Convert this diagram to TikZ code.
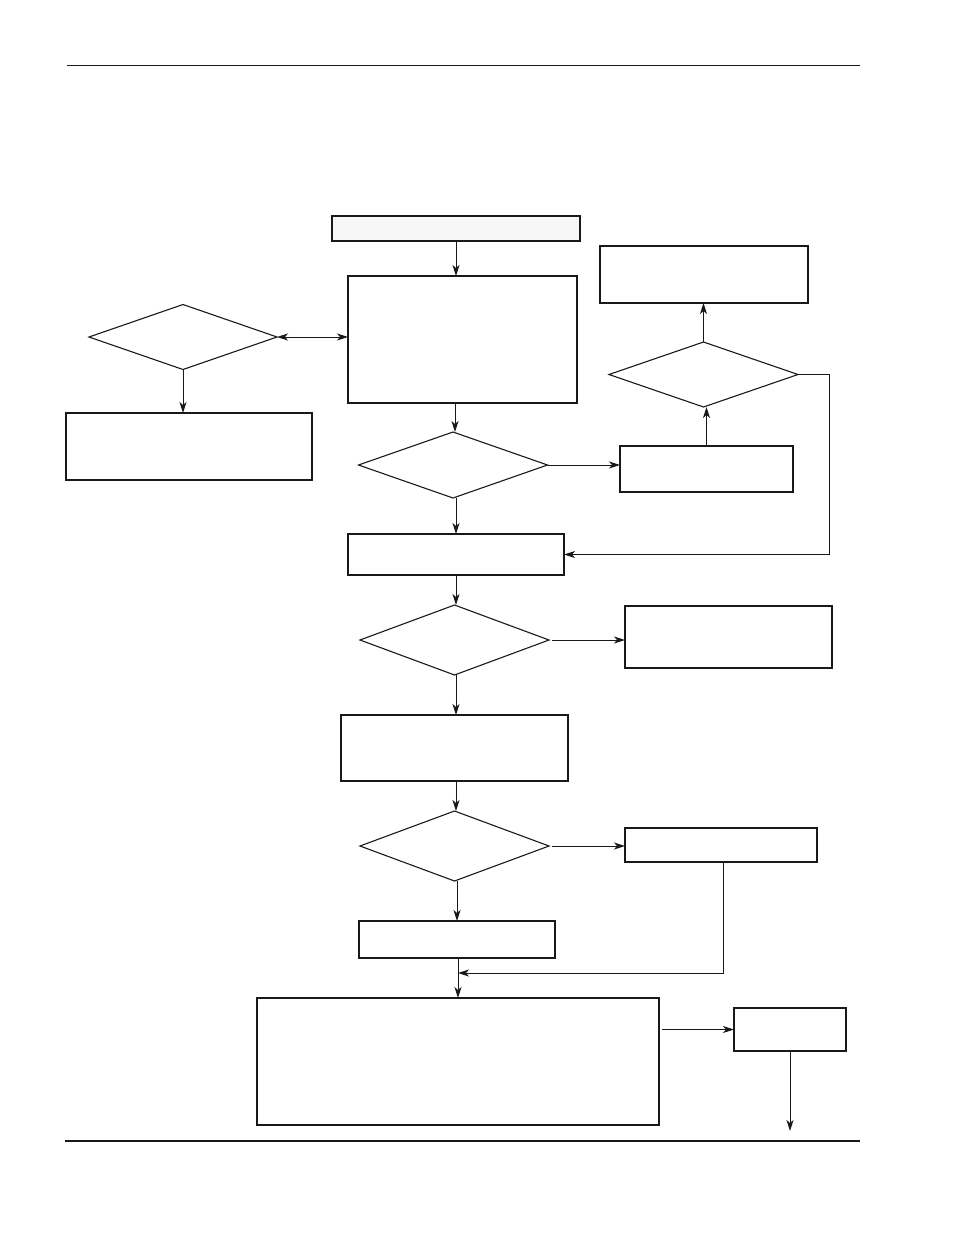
\documentclass[tikz,border=0pt]{standalone}
\usetikzlibrary{arrows.meta,shapes.geometric}
\begin{document}
\begin{tikzpicture}[x=1pt,y=-1pt,
  box/.style={draw=black!90,line width=1.3pt,rectangle,inner sep=0pt,outer sep=0pt},
  tbox/.style={box,line width=2pt},
  dia/.style={draw=black!90,line width=1.1pt,diamond,inner sep=0pt,outer sep=0pt},
  tip/.tip={Stealth[length=11pt,width=7pt,inset=3pt]},
  arr/.style={draw=black!90,line width=1pt,-tip},
  darr/.style={draw=black!90,line width=1pt,tip-tip},
  rule/.style={draw=black!90}]
\useasboundingbox (0,0) rectangle (954,1235);
\draw[rule,line width=1pt] (67,65) -- (860,65);
\draw[rule,line width=2pt] (65,1141) -- (860,1141);
% rectangles
\node[box,fill=black!3,line width=1.6pt,minimum width=248pt,minimum height=25pt] (start) at (456,228.5) {};
\node[tbox,minimum width=229pt,minimum height=127pt] (B) at (462.5,339.5) {};
\node[box,minimum width=246pt,minimum height=67pt] (L) at (189,446.5) {};
\node[box,minimum width=208pt,minimum height=57pt] (TR) at (704,274.5) {};
\node[tbox,minimum width=173pt,minimum height=46pt] (R1) at (706.5,469) {};
\node[tbox,minimum width=216pt,minimum height=41pt] (C) at (456,554.5) {};
\node[box,line width=1.6pt,minimum width=207pt,minimum height=62pt] (R2) at (728.5,637) {};
\node[box,line width=1.1pt,minimum width=227pt,minimum height=66pt] (E) at (454.5,748) {};
\node[box,line width=1.6pt,minimum width=192pt,minimum height=34pt] (R3) at (721,845) {};
\node[box,line width=1.6pt,minimum width=196pt,minimum height=37pt] (F) at (457,939.5) {};
\node[tbox,minimum width=402pt,minimum height=127pt] (G) at (458,1061.5) {};
\node[box,line width=1.6pt,minimum width=112pt,minimum height=43pt] (H) at (790,1029.5) {};
% diamonds
\node[dia,minimum width=188pt,minimum height=65pt] (D1) at (183,337) {};
\node[dia,minimum width=189pt,minimum height=66pt] (D2) at (453,465) {};
\node[dia,minimum width=189pt,minimum height=65pt] (D3) at (703.5,374.5) {};
\node[dia,minimum width=189pt,minimum height=70pt] (D4) at (454.5,640) {};
\node[dia,minimum width=189pt,minimum height=70pt] (D5) at (454.5,846) {};
\coordinate (merge) at (458,973);
\coordinate (out) at (790,1131);
% connectors
\draw[arr] (start.south) -- (start.south |- B.north);
\draw[darr] (D1.east) -- (B.west |- D1.east);
\draw[arr] (D1.south) -- (D1.south |- L.north);
\draw[arr] (455,403) -- (455,432);
\draw[arr] (D2.east) -- (R1.west |- D2.east);
\draw[arr] (R1.north) -- (R1.north |- D3.south);
\draw[arr] (D3.north) -- (D3.north |- TR.south);
\draw[arr] (D3.east) -- ++(31,0) |- (C.east);
\draw[arr] (D2.south -| C.north) -- (C.north);
\draw[arr] (C.south) -- (C.south |- D4.north);
\draw[arr,shorten <=3pt] (D4.east) -- (R2.west |- D4.east);
\draw[arr] (D4.south -| C.south) -- (E.north -| C.south);
\draw[arr] (E.south -| C.south) -- (D5.north -| C.south);
\draw[arr,shorten <=3pt] (D5.east) -- (R3.west |- D5.east);
\draw[arr] (D5.south -| F.north) -- (F.north);
\draw[arr] (R3.south -| 723,0) |- (merge);
\draw[arr] (F.south -| G.north) -- (G.north);
\draw[arr,shorten <=3pt] (G.east |- H.west) -- (H.west);
\draw[arr] (H.south) -- (out);
\end{tikzpicture}
\end{document}
